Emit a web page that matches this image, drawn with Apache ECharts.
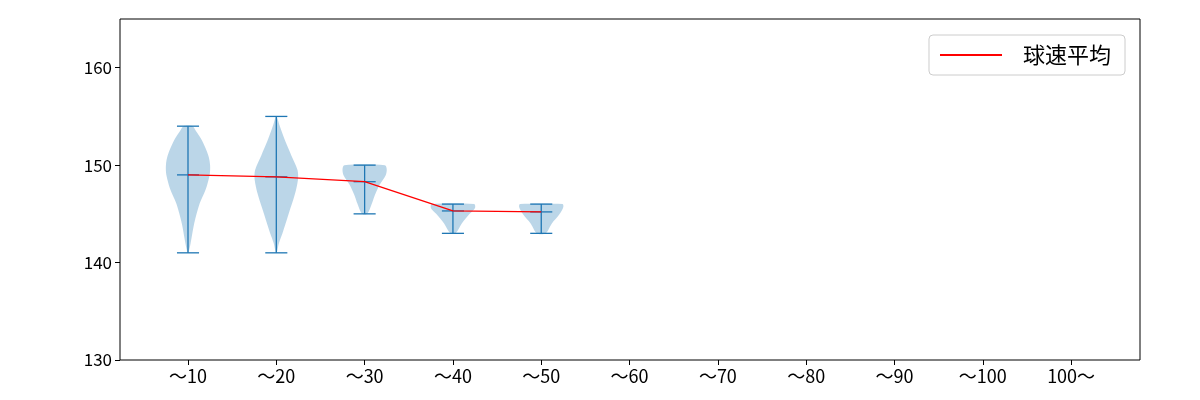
<!DOCTYPE html>
<html><head><meta charset="utf-8">
<script src="https://cdn.jsdelivr.net/npm/echarts@6/dist/echarts.min.js"></script>
<style>html,body{margin:0;background:#fff}#c{width:1200px;height:400px}</style>
</head><body><div id="c"></div>
<script>
var categories = ["～10","～20","～30","～40","～50","～60","～70","～80","～90","～100","100～"];
// per category: [min, max, mean]
var stats = [[141,154,149.0],[141,155,148.8],[145,150,148.3],[143,146,145.3],[143,146,145.2]];
// violin profile: [speed, half width in category units]
var profiles = [
  [[141,0.005],[142,0.03],[144,0.07],[146,0.13],[147.5,0.2],[149,0.245],[150,0.25],[151,0.23],[152.5,0.16],[153.5,0.09],[154,0.05]],
  [[141,0.005],[142,0.03],[143,0.07],[145,0.14],[147,0.21],[148.5,0.245],[149.5,0.24],[151,0.17],[152.5,0.1],[154,0.04],[155,0.005]],
  [[145,0.03],[146,0.08],[147,0.12],[148,0.17],[149,0.24],[149.6,0.25],[150,0.23]],
  [[143,0.03],[144,0.1],[145,0.19],[145.6,0.25],[146,0.24]],
  [[143,0.05],[144,0.12],[145,0.21],[145.7,0.25],[146,0.24]]
];
var meanLine = stats.map(function (s, i) { return [i + 1, s[2]]; });

var chart = echarts.init(document.getElementById("c"));
var blue = "#1f77b4";
var font = "Noto Sans CJK JP";

chart.setOption({
  animation: false,
  textStyle: { fontFamily: font },
  grid: { left: 120, right: 60, top: 19, bottom: 40, show: true, borderColor: "#000", borderWidth: 1 },
  legend: {
    right: 75, top: 35, orient: "vertical",
    backgroundColor: "#fff", borderColor: "#ccc", borderWidth: 1, borderRadius: 4,
    padding: [9, 14, 9, 11], itemWidth: 62, itemHeight: 2, itemGap: 10,
    textStyle: { fontSize: 22, color: "#000", fontFamily: font, padding: [0, 0, 0, 16] },
    data: [{ name: "球速平均", icon: "rect" }]
  },
  xAxis: {
    type: "value", min: 0.23, max: 11.78,
    axisLine: { show: false },
    splitLine: { show: false },
    axisTick: { show: true, length: 5, lineStyle: { color: "#000" }, customValues: [1,2,3,4,5,6,7,8,9,10,11] },
    axisLabel: { color: "#000", fontSize: 18, margin: 7, customValues: [1,2,3,4,5,6,7,8,9,10,11],
      formatter: function (v) { return categories[Math.round(v) - 1] || ""; } }
  },
  yAxis: {
    type: "value", min: 130, max: 165, interval: 10,
    axisLine: { show: false },
    splitLine: { show: false },
    axisTick: { show: true, length: 5, lineStyle: { color: "#000" } },
    axisLabel: { color: "#000", fontSize: 17, showMaxLabel: false }
  },
  series: [
    {
      type: "custom",
      data: stats.map(function (s, i) { return [i + 1, s[0], s[1], s[2]]; }),
      renderItem: function (params, api) {
        var x = api.value(0), mn = api.value(1), mx = api.value(2), mean = api.value(3);
        var prof = profiles[params.dataIndex];
        var pts = [];
        prof.forEach(function (p) { pts.push(api.coord([x + p[1], p[0]])); });
        for (var k = prof.length - 1; k >= 0; k--) pts.push(api.coord([x - prof[k][1], prof[k][0]]));
        var top = api.coord([x, mx]), bot = api.coord([x, mn]), mid = api.coord([x, mean]);
        var cw = api.size([0.125, 0])[0];
        var ls = { stroke: blue, lineWidth: 1.3 };
        return {
          type: "group",
          children: [
            { type: "polygon", shape: { points: pts, smooth: 0.3 }, style: { fill: "rgba(31,119,180,0.3)", stroke: null } },
            { type: "line", shape: { x1: top[0], y1: top[1], x2: bot[0], y2: bot[1] }, style: ls },
            { type: "line", shape: { x1: top[0] - cw, y1: top[1], x2: top[0] + cw, y2: top[1] }, style: ls },
            { type: "line", shape: { x1: bot[0] - cw, y1: bot[1], x2: bot[0] + cw, y2: bot[1] }, style: ls },
            { type: "line", shape: { x1: mid[0] - cw, y1: mid[1], x2: mid[0] + cw, y2: mid[1] }, style: ls }
          ]
        };
      }
    },
    {
      name: "球速平均", type: "line", data: meanLine, symbol: "none",
      lineStyle: { color: "red", width: 1.3 }, itemStyle: { color: "red" }, z: 5
    }
  ]
});
</script></body></html>
